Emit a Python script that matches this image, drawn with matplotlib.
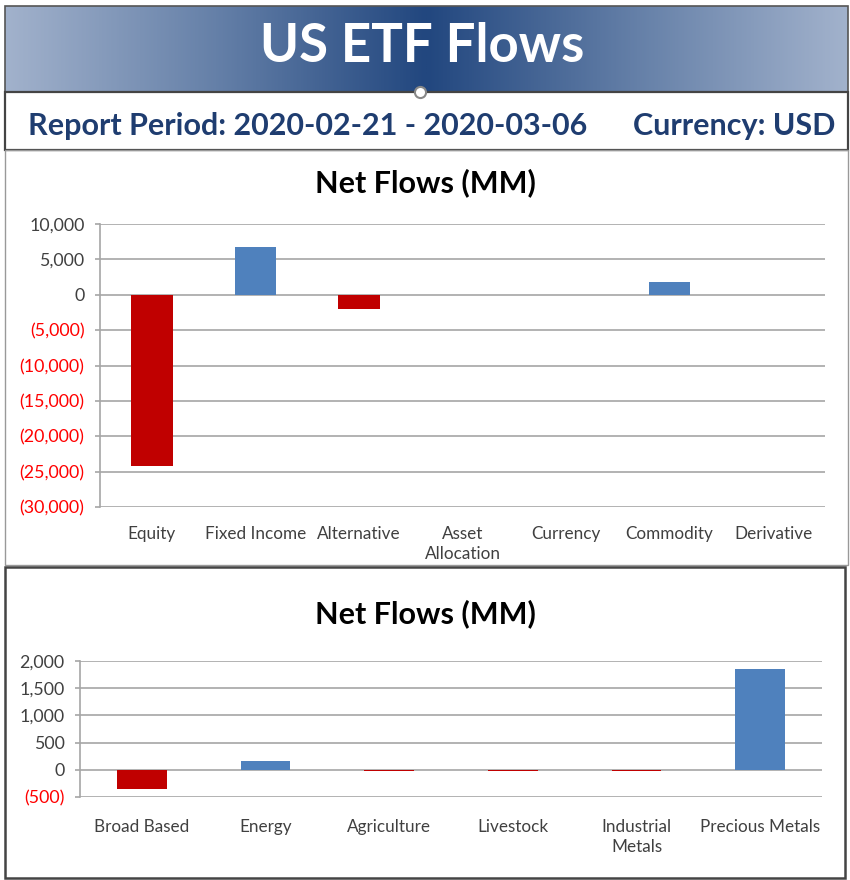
import matplotlib
matplotlib.use("Agg")
import matplotlib.pyplot as plt
import numpy as np
from matplotlib.patches import Rectangle
from matplotlib.colors import LinearSegmentedColormap

# data
asset_classes = ["Equity", "Fixed Income", "Alternative", "Asset\nAllocation",
                 "Currency", "Commodity", "Derivative"]
asset_flows = [-24200, 6700, -2000, 0, 0, 1800, 0]
asset_ticks = [10000, 5000, 0, -5000, -10000, -15000, -20000, -25000, -30000]

commodity_types = ["Broad Based", "Energy", "Agriculture", "Livestock",
                   "Industrial\nMetals", "Precious Metals"]
commodity_flows = [-350, 165, -25, -25, -25, 1860]
commodity_ticks = [2000, 1500, 1000, 500, 0, -500]

title = "US ETF Flows"
period = "Report Period: 2020-02-21 - 2020-03-06"
currency = "Currency: USD"

W, H = 850, 880
FONT = "Lato"
RED, BLUE = "#c00000", "#4f81bd"
GRID = "#a6a6a6"
NAVY = "#1f3d70"


def box(x0, y0, x1, y1):
    """pixel box (top-left origin) -> fig fraction rect"""
    return [x0 / W, 1 - y1 / H, (x1 - x0) / W, (y1 - y0) / H]


def fmt(v):
    return f"({abs(v):,})" if v < 0 else f"{v:,}"


fig = plt.figure(figsize=(W / 100, H / 100), dpi=100)
fig.patch.set_facecolor("white")

# background layer in pixel coordinates
bg = fig.add_axes([0, 0, 1, 1])
bg.set_xlim(0, W)
bg.set_ylim(H, 0)
bg.axis("off")

# gradient banner
cmap = LinearSegmentedColormap.from_list("banner", ["#a2b2cc", "#6580a8", "#22477f"])
xs = np.linspace(0, 1, 600)
grad = 1 - np.abs(xs - 0.5) * 2
bg.imshow(grad[None, :], extent=(5, 848, 92, 6), cmap=cmap, aspect="auto",
          interpolation="bicubic", zorder=1)
bg.text(422, 47, title, ha="center", va="center", color="white",
        fontsize=38, fontweight="bold", family=FONT, zorder=3)
bg.add_patch(Rectangle((5, 6), 843, 86, fill=False, ec="#555555", lw=1.2, zorder=2))

# report period strip
bg.add_patch(Rectangle((5, 92), 843, 58, fill=False, ec="#444444", lw=1.6, zorder=2))
bg.text(28, 126, period, ha="left", va="center", color=NAVY,
        fontsize=22, fontweight="bold", family=FONT, zorder=3)
bg.text(835, 126, currency, ha="right", va="center", color=NAVY,
        fontsize=22, fontweight="bold", family=FONT, zorder=3)
bg.plot([420], [92], marker="o", ms=8, mfc="white", mec="#888888", mew=1.5, zorder=4)

# chart panels
bg.add_patch(Rectangle((5, 150), 843, 415, fill=False, ec="#999999", lw=1.0, zorder=2))
bg.add_patch(Rectangle((5, 567), 840, 311, fill=False, ec="#444444", lw=1.8, zorder=2))
bg.text(425, 183, "Net Flows (MM)", ha="center", va="center", fontsize=22,
        fontweight="bold", family=FONT, color="black")
bg.text(425, 614, "Net Flows (MM)", ha="center", va="center", fontsize=22,
        fontweight="bold", family=FONT, color="black")


def bar_panel(rect, cats, vals, ticks, xpad):
    ax = fig.add_axes(rect)
    x = np.arange(len(cats))
    colors = [RED if v < 0 else BLUE for v in vals]
    ax.bar(x, vals, width=0.4, color=colors, zorder=3)
    ax.set_xlim(-0.5, len(cats) - 0.5)
    ax.set_ylim(min(ticks), max(ticks))
    ax.set_yticks(ticks)
    labels = ax.set_yticklabels([fmt(t) for t in ticks], family=FONT, fontsize=12.8)
    for lab, t in zip(labels, ticks):
        lab.set_color("#ff0000" if t < 0 else "#404040")
    ax.set_xticks(x)
    ax.set_xticklabels(cats, family=FONT, fontsize=12.3, color="#404040",
                       linespacing=1.3, va="top")
    ax.tick_params(axis="x", length=0, pad=xpad)
    ax.tick_params(axis="y", length=3.6, color=GRID, width=1.2, pad=7.5)
    ax.grid(axis="y", color=GRID, lw=1.2, zorder=0)
    for s in ["top", "right", "bottom"]:
        ax.spines[s].set_visible(False)
    ax.spines["left"].set_color(GRID)
    ax.spines["left"].set_linewidth(1.2)
    ax.set_facecolor("none")
    return ax


bar_panel(box(100, 224, 825, 507), asset_classes, asset_flows, asset_ticks, 14)
bar_panel(box(80, 661, 822, 797), commodity_types, commodity_flows, commodity_ticks, 16)

fig.savefig("out.png", dpi=100, facecolor="white")
